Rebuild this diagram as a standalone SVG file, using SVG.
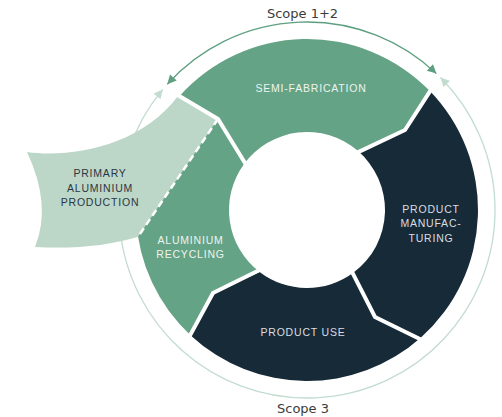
<svg xmlns="http://www.w3.org/2000/svg" width="502" height="417" viewBox="0 0 502 417">
<defs>
<style>
.green{fill:#64a385}
.dark{fill:#172a37}
.light{fill:#bcd6c8}
.gap{fill:none;stroke:#ffffff;stroke-width:4;stroke-linejoin:miter}
.dash{fill:none;stroke:#ffffff;stroke-width:2.5;stroke-dasharray:7 4}
.lbl{font-family:"Liberation Sans",Arial,sans-serif;font-size:10.5px;letter-spacing:0.8px;text-anchor:middle}
.onGreen{fill:#eef4f0}
.onDark{fill:#d9dee1}
.onLight{fill:#2a3744}
.scope{font-family:"DejaVu Sans",sans-serif;font-size:13px;fill:#3c3c3c;text-anchor:middle}
.arc12{fill:none;stroke:#5e9f80;stroke-width:1.3}
.arc3{fill:none;stroke:#c2dccf;stroke-width:1.3}
</style>
<marker id="ah12" viewBox="0 0 10 10" markerUnits="userSpaceOnUse" markerWidth="10" markerHeight="9" refX="10" refY="5" orient="auto-start-reverse">
<path d="M0,0 L10,5 L0,10 Z" fill="#5e9f80"/>
</marker>
<marker id="ah3" viewBox="0 0 10 10" markerUnits="userSpaceOnUse" markerWidth="10" markerHeight="9" refX="10" refY="5" orient="auto-start-reverse">
<path d="M0,0 L10,5 L0,10 Z" fill="#c2dccf"/>
</marker>
</defs>

<g id="connectors">
<g id="scope-1-2">
<path class="arc12" d="M167.3,84.2 A188,188 0 0 1 436.4,73.6" marker-start="url(#ah12)" marker-end="url(#ah12)"/>
<text class="scope" x="302.5" y="18">Scope 1+2</text>
</g>
<g id="scope-3">
<path class="arc3" d="M440.4,77.5 A188,188 0 1 1 162.8,89.4" marker-start="url(#ah3)" marker-end="url(#ah3)"/>
<text class="scope" x="303" y="412.5">Scope 3</text>
</g>
</g>

<g id="semi-fabrication">
<path class="green" d="M178.9,96.7 A171,171 0 0 1 429.4,90.6 L405,130 L357.5,150.6 A78,78 0 0 0 243.9,164.2 L218,119 Z"/>
<text class="lbl onGreen" x="311" y="92">SEMI-FABRICATION</text>
</g>

<g id="product-manufacturing">
<path class="dark" d="M429.4,90.6 A171,171 0 0 1 420.7,337.7 L375,317 L353.3,272.8 A78,78 0 0 0 357.5,150.6 L405,130 Z"/>
<text class="lbl onDark" x="431" y="213">PRODUCT</text>
<text class="lbl onDark" x="431" y="227.3">MANUFAC-</text>
<text class="lbl onDark" x="431" y="241.7">TURING</text>
</g>

<g id="product-use">
<path class="dark" d="M420.7,337.7 A171,171 0 0 1 191.0,335.7 L213,293 L259.6,272.0 A78,78 0 0 0 353.3,272.8 L375,317 Z"/>
<text class="lbl onDark" x="303" y="336">PRODUCT USE</text>
</g>

<g id="aluminium-recycling">
<path class="green" d="M191.0,335.7 A171,171 0 0 1 178.9,96.7 L218,119 L243.9,164.2 A78,78 0 0 0 259.6,272.0 L213,293 Z"/>
</g>

<g id="primary-aluminium-production">
<path class="light" d="M27,152 C70,158 140,147 178,96 L218,119 L138.1,236.7 Q95,250 35,247 Q52,205 27,152 Z"/>
<text class="lbl onLight" x="100" y="177">PRIMARY</text>
<text class="lbl onLight" x="100" y="191.5">ALUMINIUM</text>
<text class="lbl onLight" x="100" y="205.5">PRODUCTION</text>
</g>

<g id="dividers">
<polyline class="gap" points="432.2,87.8 405,130 355.0,153.6"/>
<polyline class="gap" points="423.4,340.7 375,317 350.9,269.6"/>
<polyline class="gap" points="188.3,338.6 213,293 262.1,268.8"/>
<polyline class="gap" points="175.9,94.0 218,119 247.1,166.5"/>
<line class="dash" x1="218" y1="119" x2="138.1" y2="236.7"/>
</g>

<g id="recycling-label">
<text class="lbl onGreen" x="190.5" y="244">ALUMINIUM</text>
<text class="lbl onGreen" x="190.5" y="258">RECYCLING</text>
</g>
</svg>
